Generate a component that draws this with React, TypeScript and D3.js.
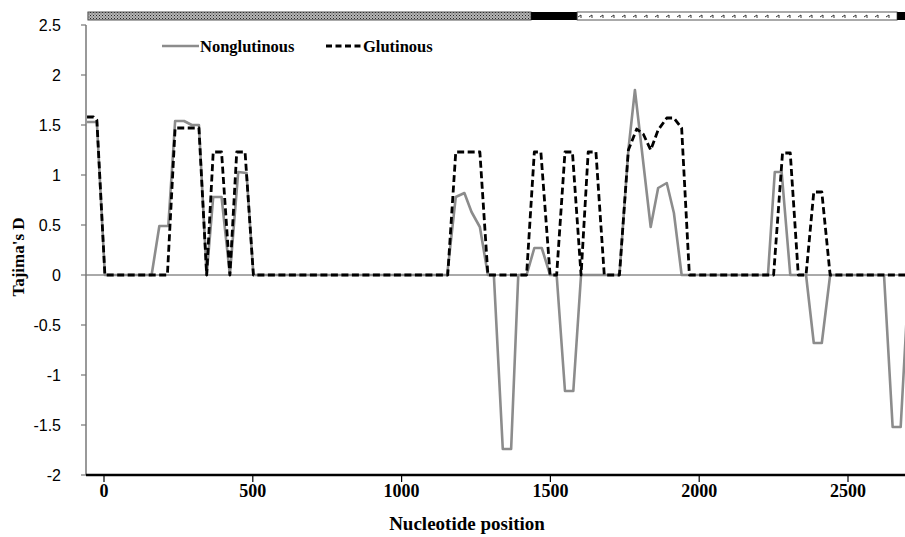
import React from "react";
import * as d3 from "d3";

const nonglutinousX = [-57, -24, 3, 160, 186, 216, 239, 269, 295, 319, 345, 367, 395, 423, 451, 479, 502, 1153, 1182, 1211, 1235, 1263, 1290, 1310, 1340, 1368, 1392, 1420, 1446, 1471, 1499, 1521, 1549, 1577, 1603, 1732, 1762, 1784, 1837, 1862, 1891, 1915, 1941, 2231, 2254, 2277, 2306, 2359, 2385, 2412, 2440, 2621, 2650, 2677, 2705];
const nonglutinousY = [1.53, 1.53, 0, 0, 0.49, 0.49, 1.54, 1.54, 1.5, 1.5, 0, 0.78, 0.78, 0, 1.03, 1.02, 0, 0, 0.78, 0.82, 0.63, 0.48, 0, 0, -1.74, -1.74, 0, 0, 0.27, 0.27, 0, 0, -1.16, -1.16, 0, 0, 1.25, 1.85, 0.48, 0.87, 0.92, 0.62, 0, 0, 1.03, 1.03, 0, 0, -0.68, -0.68, 0, 0, -1.52, -1.52, 0];

const glutinousX = [-57, -35, -24, 3, 213, 239, 319, 345, 367, 395, 423, 446, 474, 502, 1155, 1182, 1263, 1290, 1420, 1446, 1468, 1499, 1521, 1549, 1574, 1603, 1627, 1653, 1681, 1732, 1762, 1790, 1812, 1837, 1862, 1891, 1915, 1941, 1967, 2250, 2280, 2306, 2333, 2359, 2385, 2412, 2440, 2705];
const glutinousY = [1.58, 1.58, 1.55, 0, 0, 1.47, 1.47, 0, 1.23, 1.23, 0, 1.23, 1.23, 0, 0, 1.23, 1.23, 0, 0, 1.23, 1.23, 0, 0, 1.23, 1.23, 0, 1.23, 1.23, 0, 0, 1.25, 1.46, 1.41, 1.25, 1.45, 1.57, 1.57, 1.47, 0, 0, 1.22, 1.22, 0, 0, 0.83, 0.83, 0, 0];

const xTicks = [0, 500, 1000, 1500, 2000, 2500];
const yTicks = [-2, -1.5, -1, -0.5, 0, 0.5, 1, 1.5, 2, 2.5];

const barStarts = [-54, 1435, 1590, 2665];
const barEnds = [1435, 1590, 2665, 2720];
const barTypes = ["stipple", "solid", "wave", "solid"];

const seriesNames = ["Nonglutinous", "Glutinous"];

export default function App() {
  const W = 905;
  const H = 537;
  const left = 86;
  const right = 905;
  const top = 25;
  const bottom = 475;

  const x = d3.scaleLinear().domain([0, 2500]).range([104, 848]);
  const y = d3.scaleLinear().domain([-2, 2.5]).range([bottom, top]);

  const line = d3
    .line<[number, number]>()
    .x((d) => x(d[0]))
    .y((d) => y(d[1]));

  const ng = nonglutinousX.map((v, i) => [v, nonglutinousY[i]] as [number, number]);
  const gl = glutinousX.map((v, i) => [v, glutinousY[i]] as [number, number]);

  const serif = "'Liberation Serif', 'Times New Roman', serif";
  const sans = "'Liberation Sans', Arial, sans-serif";

  return (
    <svg
      width={W}
      height={H}
      style={{ position: "absolute", left: 0, top: 0, background: "#fff" }}
    >
      <defs>
        <clipPath id="plotClip">
          <rect x={left} y={0} width={right - left} height={H} />
        </clipPath>
        <pattern id="stipple" width="3" height="3" patternUnits="userSpaceOnUse">
          <rect width="3" height="3" fill="#b8b8b8" />
          <rect x="0" y="0" width="1" height="1" fill="#222" />
          <rect x="1.5" y="1.5" width="1" height="1" fill="#444" />
        </pattern>
        <pattern id="wave" width="11" height="8" patternUnits="userSpaceOnUse" x="577" y="12">
          <rect width="11" height="8" fill="#fff" />
          <path d="M1,5 L4,3 L4,6" stroke="#333" strokeWidth="1" fill="none" />
        </pattern>
      </defs>

      {/* top bar */}
      <g clipPath="url(#plotClip)">
        {barStarts.map((s, i) => (
          <rect
            key={i}
            x={x(s)}
            y={12}
            width={x(barEnds[i]) - x(s)}
            height={8}
            fill={barTypes[i] === "solid" ? "#000" : `url(#${barTypes[i]})`}
            stroke={barTypes[i] === "solid" ? "none" : "#444"}
            strokeWidth={barTypes[i] === "solid" ? 0 : 0.9}
          />
        ))}
      </g>

      {/* zero line */}
      <line x1={left} x2={right} y1={y(0)} y2={y(0)} stroke="#555" strokeWidth={1} />

      {/* y axis */}
      <line x1={left} x2={left} y1={top} y2={bottom} stroke="#777" strokeWidth={1.5} />
      {yTicks.map((t) => (
        <g key={t}>
          <line x1={left - 5} x2={left} y1={y(t)} y2={y(t)} stroke="#777" strokeWidth={1.2} />
          <text
            x={61}
            y={y(t)}
            dy="0.35em"
            textAnchor="end"
            fontFamily={sans}
            fontSize={16}
            fill="#000"
          >
            {t}
          </text>
        </g>
      ))}

      {/* data lines */}
      <g clipPath="url(#plotClip)">
        <path d={line(ng) || ""} fill="none" stroke="#8c8c8c" strokeWidth={2.6} strokeLinejoin="round" />
        <path
          d={line(gl) || ""}
          fill="none"
          stroke="#000"
          strokeWidth={2.8}
          strokeDasharray="7,3.5"
          strokeLinejoin="round"
        />
      </g>

      {/* x axis */}
      <line x1={left} x2={right} y1={bottom} y2={bottom} stroke="#000" strokeWidth={2.6} />
      {xTicks.map((t) => (
        <g key={t}>
          <line x1={x(t)} x2={x(t)} y1={bottom} y2={bottom + 7} stroke="#000" strokeWidth={1.2} />
          <text
            x={x(t)}
            y={497}
            textAnchor="middle"
            fontFamily={serif}
            fontWeight="bold"
            fontSize={18}
            fill="#000"
          >
            {t}
          </text>
        </g>
      ))}

      {/* axis titles */}
      <text
        x={467}
        y={530}
        textAnchor="middle"
        fontFamily={serif}
        fontWeight="bold"
        fontSize={19}
        fill="#000"
      >
        Nucleotide position
      </text>
      <text
        transform={`translate(24,257) rotate(-90)`}
        textAnchor="middle"
        fontFamily={serif}
        fontWeight="bold"
        fontSize={17}
        fill="#000"
      >
        Tajima's D
      </text>

      {/* legend */}
      <line x1={162} x2={199} y1={46} y2={46} stroke="#8c8c8c" strokeWidth={2.6} />
      <text x={200} y={52} fontFamily={serif} fontWeight="bold" fontSize={16.5} fill="#000">
        {seriesNames[0]}
      </text>
      <line
        x1={326}
        x2={362}
        y1={46}
        y2={46}
        stroke="#000"
        strokeWidth={2.8}
        strokeDasharray="6,3.5"
      />
      <text x={363} y={52} fontFamily={serif} fontWeight="bold" fontSize={16.5} fill="#000">
        {seriesNames[1]}
      </text>
    </svg>
  );
}
